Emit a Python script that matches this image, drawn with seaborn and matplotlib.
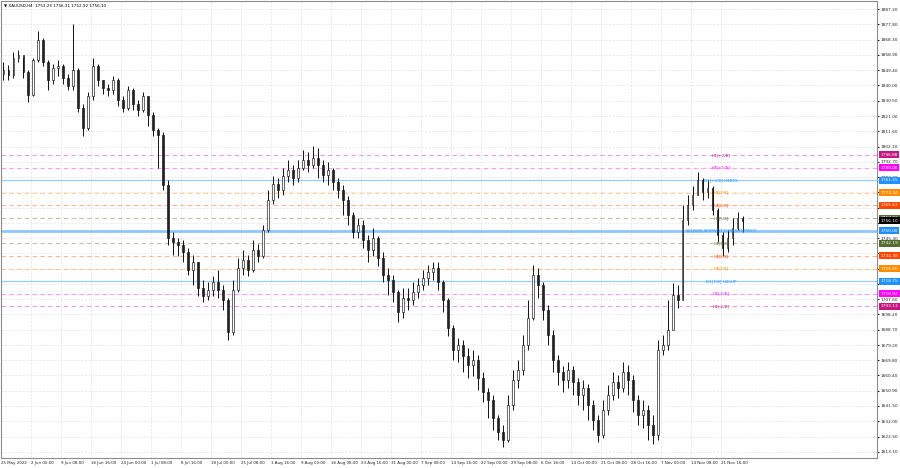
import numpy as np
import matplotlib
matplotlib.use("Agg")
import matplotlib.pyplot as plt
import matplotlib.transforms as mtransforms
import seaborn as sns

sns.set_style("white")
plt.rcParams['font.family'] = ['DejaVu Sans']

# price candles (one candle ~ 5 H4 bars)
close = [1849.5, 1846.4, 1856.9, 1858.8, 1848.2, 1834.0, 1855.7, 1868.0, 1854.4, 1843.3,
         1850.7, 1852.0, 1844.5, 1839.6, 1849.5, 1826.0, 1813.6, 1833.4, 1852.0, 1843.3,
         1838.3, 1837.1, 1843.3, 1830.9, 1826.0, 1837.1, 1828.4, 1824.7, 1833.4, 1821.6,
         1812.3, 1809.2, 1778.3, 1745.5, 1743.0, 1741.1, 1736.8, 1725.7, 1730.6, 1714.5,
         1709.6, 1713.3, 1718.2, 1713.3, 1707.1, 1687.3, 1713.3, 1726.9, 1731.9, 1725.7,
         1738.1, 1734.3, 1750.4, 1769.0, 1778.9, 1775.2, 1783.9, 1787.6, 1782.6, 1788.8,
         1793.8, 1790.7, 1795.0, 1790.7, 1784.5, 1787.6, 1780.1, 1775.2, 1769.0, 1759.7,
         1749.2, 1753.5, 1744.2, 1738.1, 1745.5, 1733.1, 1722.6, 1719.5, 1712.1, 1699.7,
         1708.3, 1707.1, 1712.1, 1716.4, 1720.7, 1724.4, 1726.9, 1718.2, 1707.1, 1689.8,
         1676.2, 1679.2, 1672.4, 1666.9, 1670.0, 1658.8, 1650.2, 1645.2, 1634.1, 1625.4,
         1620.4, 1642.1, 1657.6, 1663.8, 1679.2, 1696.0, 1722.6, 1716.4, 1700.9, 1685.4,
         1670.0, 1662.5, 1657.6, 1663.8, 1656.3, 1648.3, 1652.6, 1642.1, 1632.8, 1623.5,
         1639.0, 1648.3, 1656.3, 1652.6, 1662.5, 1657.6, 1645.2, 1635.9, 1639.0, 1629.7,
         1623.5, 1676.2, 1679.2, 1688.5, 1710.2, 1707.1, 1756.6, 1765.9, 1772.1, 1781.4,
         1773.9, 1776.4, 1762.8, 1747.3, 1739.3, 1745.5, 1751.7, 1757.9, 1756.1]
high = [1854.4, 1852.6, 1860.6, 1861.8, 1856.9, 1849.5, 1856.9, 1873.6, 1869.3, 1855.7,
        1853.2, 1855.7, 1853.2, 1847.0, 1877.9, 1850.7, 1828.4, 1835.9, 1856.9, 1853.2,
        1843.3, 1840.8, 1845.8, 1844.5, 1833.4, 1839.6, 1838.3, 1830.9, 1835.9, 1833.4,
        1823.5, 1813.6, 1811.1, 1781.4, 1749.2, 1745.5, 1744.2, 1739.3, 1734.9, 1730.6,
        1719.5, 1718.2, 1722.0, 1725.7, 1716.4, 1708.3, 1719.5, 1733.1, 1738.1, 1734.9,
        1744.2, 1741.8, 1753.5, 1775.2, 1783.9, 1782.6, 1788.8, 1793.8, 1790.7, 1793.8,
        1800.0, 1798.7, 1802.4, 1801.2, 1793.8, 1792.5, 1788.8, 1782.6, 1778.3, 1771.5,
        1761.6, 1757.9, 1756.6, 1747.3, 1751.7, 1746.7, 1736.8, 1726.9, 1722.6, 1713.3,
        1714.5, 1714.5, 1718.2, 1720.7, 1725.7, 1728.8, 1730.6, 1730.6, 1719.5, 1708.3,
        1691.6, 1683.6, 1682.3, 1677.4, 1676.2, 1673.1, 1662.5, 1652.6, 1648.3, 1635.9,
        1629.7, 1648.3, 1663.8, 1670.0, 1685.4, 1707.1, 1728.8, 1726.9, 1718.2, 1704.0,
        1688.5, 1673.1, 1666.3, 1668.7, 1666.3, 1658.8, 1657.6, 1655.1, 1645.2, 1635.9,
        1645.2, 1654.5, 1662.5, 1660.7, 1668.7, 1666.9, 1660.7, 1648.3, 1645.2, 1642.1,
        1635.9, 1682.3, 1685.4, 1707.1, 1717.6, 1716.4, 1765.9, 1772.1, 1777.7, 1786.3,
        1782.6, 1781.4, 1777.7, 1764.0, 1749.2, 1750.4, 1757.9, 1761.6, 1759.1]
low = [1843.3, 1843.3, 1844.5, 1854.4, 1844.5, 1829.7, 1833.4, 1854.4, 1852.0, 1837.1,
       1840.8, 1845.8, 1840.8, 1837.1, 1837.1, 1823.5, 1808.6, 1812.3, 1830.9, 1839.6,
       1834.6, 1833.4, 1834.6, 1827.2, 1823.5, 1824.7, 1824.7, 1821.0, 1823.5, 1814.8,
       1808.6, 1788.8, 1775.2, 1741.1, 1734.9, 1734.3, 1730.6, 1722.6, 1716.4, 1709.6,
       1705.9, 1707.1, 1709.6, 1708.3, 1700.9, 1682.3, 1685.4, 1712.1, 1722.6, 1722.0,
       1724.4, 1730.6, 1733.1, 1749.2, 1766.5, 1770.2, 1772.1, 1780.1, 1778.3, 1780.1,
       1787.6, 1786.3, 1788.8, 1782.6, 1780.1, 1778.3, 1775.2, 1770.2, 1759.7, 1753.5,
       1745.5, 1745.5, 1739.3, 1730.6, 1734.3, 1728.1, 1718.2, 1710.2, 1705.9, 1693.5,
       1696.0, 1700.9, 1704.0, 1708.3, 1713.3, 1716.4, 1719.5, 1713.3, 1699.7, 1684.8,
       1670.0, 1668.7, 1662.5, 1658.8, 1660.1, 1651.4, 1644.0, 1634.1, 1626.6, 1620.4,
       1616.1, 1619.2, 1639.0, 1652.6, 1660.7, 1676.2, 1694.7, 1708.3, 1694.7, 1679.2,
       1662.5, 1654.5, 1650.2, 1652.6, 1648.3, 1642.1, 1639.0, 1632.8, 1626.6, 1619.2,
       1621.7, 1635.9, 1645.2, 1646.4, 1650.2, 1648.3, 1637.8, 1629.7, 1627.9, 1620.4,
       1618.0, 1620.4, 1673.1, 1676.2, 1702.8, 1702.1, 1707.1, 1753.5, 1762.8, 1772.1,
       1769.0, 1770.2, 1759.7, 1743.0, 1734.3, 1736.8, 1741.1, 1750.4, 1749.2]
first_open = 1847.0

date_labels = ["25 May 2022", "2 Jun 00:00", "9 Jun 08:00", "16 Jun 16:00", "24 Jun 00:00",
               "1 Jul 08:00", "8 Jul 16:00", "18 Jul 00:00", "25 Jul 08:00", "1 Aug 16:00",
               "9 Aug 00:00", "16 Aug 08:00", "23 Aug 16:00", "31 Aug 00:00", "7 Sep 08:00",
               "14 Sep 16:00", "22 Sep 00:00", "29 Sep 08:00", "6 Oct 16:00", "14 Oct 00:00",
               "21 Oct 08:00", "28 Oct 16:00", "7 Nov 00:00", "14 Nov 08:00", "21 Nov 16:00"]

price_ticks = [1887.20, 1877.80, 1868.30, 1858.90, 1849.40, 1840.00, 1830.50, 1821.00,
               1811.60, 1802.10, 1792.70, 1783.20, 1773.80, 1764.30, 1754.90, 1745.40,
               1736.00, 1726.50, 1717.10, 1707.60, 1698.20, 1688.70, 1679.20, 1669.80,
               1660.40, 1650.90, 1641.50, 1632.00, 1622.50, 1613.10]

level_prices = [1796.88, 1789.06, 1781.25, 1773.44, 1765.63, 1757.81, 1750.00,
                1742.19, 1734.38, 1726.56, 1718.75, 1710.94, 1703.13]
level_names = ["H4[+2/8]", "H4[+1/8]", "D1[+1/8] H4RES", "H4[7/8]", "H4[6/8]", "H4[5/8]",
               "W1[8/8] W1PIVOT D1RES H4PIVOT", "H4[3/8]", "H4[2/8]", "H4[1/8]",
               "D1[7/8] H4SUP", "H4[-1/8]", "H4[-2/8]"]
level_colors = ["#C71585", "#FF00FF", "#1E90FF", "#FF8C00", "#FF4500", "#556B2F", "#1E90FF",
                "#556B2F", "#FF4500", "#FF8C00", "#1E90FF", "#FF00FF", "#C71585"]
level_styles = ["dash", "dash", "solid", "dash", "dash", "dash", "pivot",
                "dash", "dash", "dash", "solid", "dash", "dash"]

last_price = 1756.10
header = "\u25BC XAUUSD,H4  1753.25 1756.31 1752.92 1756.10"

# ---------------------------------------------------------------
close = np.array(close)
high = np.array(high)
low = np.array(low)
opn = np.r_[first_open, close[:-1]]
x = np.arange(len(close))

fig = plt.figure(figsize=(9, 4.68), dpi=100)
ax = fig.add_axes([0.001, 10 / 468, 876 / 900, 457 / 468])
ax.set_xlim(-0.5, 174.9)
ax.set_ylim(1609.3, 1892.2)

# grid
ax.set_yticks(price_ticks)
ax.set_yticklabels([f"{p:.2f}" for p in price_ticks])
tick_pos = [6 * k - 0.4 for k in range(len(date_labels))]
ax.set_xticks(tick_pos)
ax.set_xticklabels(date_labels)
for lab in ax.get_xticklabels():
    lab.set_ha('left')
ax.grid(True, color='#e2e2e2', lw=0.5, ls=(0, (3, 2)))
ax.set_axisbelow(True)
ax.yaxis.tick_right()
ax.tick_params(axis='y', labelsize=3.1, length=1.5, pad=1, colors='#222222')
ax.tick_params(axis='x', labelsize=2.9, length=1.5, pad=1, colors='#222222')
for s in ax.spines.values():
    s.set_color('#8c8c8c')
    s.set_linewidth(0.8)

# levels
trans = mtransforms.blended_transform_factory(ax.transAxes, ax.transData)
for p, name, c, st in zip(level_prices, level_names, level_colors, level_styles):
    if st == "dash":
        ax.axhline(p, color=c, lw=0.8, ls=(0, (4, 3)), alpha=0.4, zorder=1)
    elif st == "solid":
        ax.axhline(p, color=c, lw=0.9, alpha=0.45, zorder=1)
    else:
        ax.axhline(p, color=c, lw=2.0, alpha=0.5, zorder=1)

# candles
up = close >= opn
ax.vlines(x, low, high, color='#111111', lw=0.7, zorder=3)
ax.bar(x[up], close[up] - opn[up], bottom=opn[up], width=0.35,
       color='white', edgecolor='#111111', lw=0.45, zorder=4)
ax.bar(x[~up], opn[~up] - close[~up], bottom=close[~up], width=0.35,
       color='#222222', edgecolor='#111111', lw=0.45, zorder=4)

# level labels and price tags
for p, name, c in zip(level_prices, level_names, level_colors):
    ax.text(0.822, p, name, transform=trans, ha='center', va='center',
            fontsize=3.0, color=c, zorder=6)
    ax.text(1.004, p, f"{p:.2f}", transform=trans, ha='left', va='center',
            fontsize=3.1, color='white', clip_on=False, zorder=10,
            bbox=dict(boxstyle='square,pad=0.35', fc=c, ec='none'))
ax.text(1.004, last_price, f"{last_price:.2f}", transform=trans, ha='left', va='center',
        fontsize=3.1, color='white', clip_on=False, zorder=11,
        bbox=dict(boxstyle='square,pad=0.35', fc='black', ec='none'))

ax.text(0.003, 0.994, header, transform=ax.transAxes, ha='left', va='top',
        fontsize=3.0, color='black', zorder=12)

fig.savefig("out.png", dpi=100)
